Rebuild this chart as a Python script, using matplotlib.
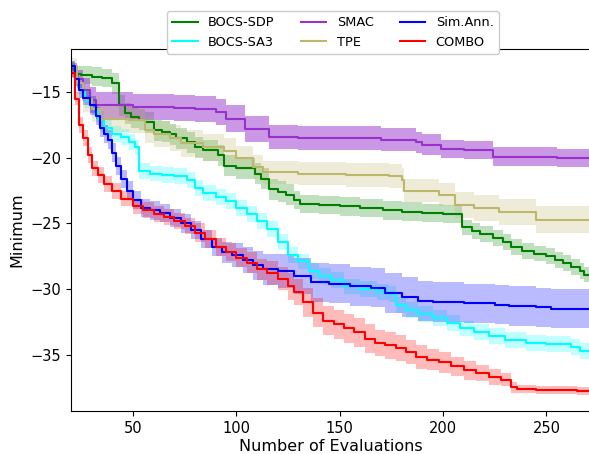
import numpy as np
import matplotlib
matplotlib.use("Agg")
import matplotlib.pyplot as plt

# BOCS-SDP
sdp_x = [20, 22, 25, 30, 35, 40, 43, 46, 49, 53, 56, 60, 64, 68, 71, 76, 80, 84, 88, 91, 94, 100,
         106, 109, 112, 116, 120, 124, 128, 131, 140, 150, 160, 171, 180, 190, 200, 207, 209, 214,
         218, 224, 229, 233, 238, 244, 250, 254, 258, 262, 266, 268, 271]
sdp_y = [-13.2, -13.6, -13.7, -13.8, -13.9, -14.3, -16.0, -16.6, -16.9, -17.1, -17.3, -17.9, -18.0,
         -18.2, -18.5, -18.8, -19.2, -19.4, -19.4, -19.8, -20.6, -20.8, -20.8, -21.2, -21.6, -22.4,
         -22.6, -22.8, -23.2, -23.5, -23.6, -23.7, -23.8, -24.0, -24.1, -24.2, -24.3, -24.3, -25.3,
         -25.6, -25.8, -26.1, -26.4, -26.8, -27.1, -27.3, -27.5, -27.8, -28.0, -28.3, -28.6, -28.9, -29.2]
sdp_err = [0.5, 0.6, 0.7, 0.7, 0.7, 0.8, 0.8, 0.8, 0.8, 0.8, 0.8, 0.8, 0.8, 0.8, 0.8, 0.8, 0.8, 0.8,
           0.8, 0.8, 0.8, 0.8, 0.8, 0.8, 0.8, 0.8, 0.8, 0.8, 0.7, 0.7, 0.7, 0.7, 0.7, 0.7, 0.7, 0.7,
           0.7, 0.7, 0.6, 0.6, 0.6, 0.6, 0.6, 0.6, 0.6, 0.6, 0.6, 0.6, 0.6, 0.6, 0.6, 0.6, 0.6]

# BOCS-SA3
sa3_x = [20, 22, 24, 27, 30, 33, 36, 40, 44, 48, 51, 53, 58, 64, 70, 76, 80, 84, 90, 95, 100, 105,
         110, 115, 120, 125, 130, 135, 140, 146, 152, 160, 168, 174, 177, 182, 188, 195, 202, 208,
         215, 222, 230, 240, 250, 262, 266, 271]
sa3_y = [-13.0, -14.0, -14.8, -15.6, -16.3, -17.0, -17.7, -18.2, -18.4, -18.8, -19.2, -21.0, -21.2,
         -21.3, -21.4, -21.7, -22.3, -22.7, -23.0, -23.3, -23.8, -24.3, -24.8, -25.4, -26.4, -27.4,
         -27.9, -28.6, -29.0, -29.3, -29.8, -30.0, -30.2, -30.4, -31.2, -31.6, -31.9, -32.2, -32.6,
         -33.0, -33.3, -33.6, -33.9, -34.1, -34.2, -34.4, -34.7, -34.9]
sa3_err = [0.4, 0.5, 0.6, 0.6, 0.6, 0.6, 0.6, 0.6, 0.6, 0.6, 0.6, 0.6, 0.6, 0.6, 0.6, 0.6, 0.6, 0.6,
           0.6, 0.6, 0.6, 0.6, 0.6, 0.6, 0.6, 0.6, 0.6, 0.6, 0.6, 0.6, 0.6, 0.6, 0.6, 0.6, 0.6, 0.6,
           0.6, 0.6, 0.6, 0.6, 0.6, 0.6, 0.6, 0.6, 0.6, 0.6, 0.6, 0.6]

# SMAC
smac_x = [20, 23, 26, 29, 32, 40, 50, 60, 70, 80, 90, 95, 104, 116, 130, 150, 170, 187, 190, 199,
          210, 224, 240, 255, 271]
smac_y = [-13.3, -14.0, -14.8, -15.6, -16.0, -16.0, -16.1, -16.1, -16.2, -16.3, -16.5, -17.0, -17.8,
          -18.4, -18.5, -18.5, -18.6, -18.8, -19.0, -19.3, -19.4, -19.9, -19.9, -20.0, -20.1]
smac_err = [0.5, 0.7, 0.9, 1.0, 1.0, 1.0, 1.0, 1.0, 1.0, 1.0, 1.0, 1.0, 1.0, 0.9, 0.9, 0.9, 0.9,
            0.8, 0.8, 0.7, 0.7, 0.7, 0.7, 0.7, 0.7]

# TPE
tpe_x = [20, 23, 26, 30, 34, 40, 48, 56, 60, 68, 73, 84, 94, 100, 108, 113, 130, 153, 174, 180,
         181, 198, 206, 215, 227, 245, 271]
tpe_y = [-13.0, -14.3, -15.5, -16.3, -17.0, -17.0, -17.1, -17.9, -18.2, -18.5, -18.9, -19.2, -19.5,
         -20.0, -20.7, -21.1, -21.2, -21.3, -21.4, -21.7, -22.5, -22.8, -23.6, -23.8, -24.1, -24.7, -24.7]
tpe_err = [0.6, 0.8, 1.0, 1.0, 1.0, 1.0, 1.0, 1.0, 1.0, 1.0, 1.0, 1.0, 1.0, 0.9, 0.9, 0.9, 0.9,
           0.9, 0.9, 0.9, 0.9, 0.9, 1.0, 1.0, 1.0, 1.0, 1.0]

# Sim.Ann.
sa_x = [20, 22, 24, 26, 29, 32, 34, 36, 38, 40, 42, 44, 47, 50, 54, 58, 63, 68, 73, 78, 83, 88, 93,
        98, 103, 108, 113, 120, 128, 136, 145, 155, 165, 172, 180, 188, 195, 210, 225, 232, 245, 252, 271]
sa_y = [-13.0, -14.0, -14.8, -15.4, -16.0, -16.8, -17.7, -18.2, -18.6, -19.6, -20.6, -21.6, -22.5,
        -23.2, -23.8, -24.0, -24.2, -24.6, -25.0, -25.5, -26.2, -26.8, -27.2, -27.4, -27.8, -28.2,
        -28.5, -28.6, -29.0, -29.5, -29.6, -29.8, -29.9, -30.3, -30.6, -30.9, -31.0, -31.1, -31.2,
        -31.3, -31.4, -31.5, -31.5]
sa_err = [0.4, 0.5, 0.6, 0.6, 0.7, 0.7, 0.7, 0.7, 0.7, 0.7, 0.7, 0.7, 0.7, 0.7, 0.7, 0.7, 0.7, 0.7,
          0.7, 0.7, 0.7, 0.7, 0.8, 0.9, 1.0, 1.1, 1.2, 1.3, 1.4, 1.5, 1.5, 1.5, 1.5, 1.5, 1.5, 1.5,
          1.5, 1.5, 1.5, 1.5, 1.5, 1.5, 1.5]

# COMBO
combo_x = [20, 22, 24, 26, 28, 30, 33, 36, 40, 44, 50, 55, 60, 65, 70, 75, 80, 85, 90, 95, 100, 105,
           110, 115, 120, 125, 128, 132, 137, 142, 147, 152, 157, 162, 167, 172, 177, 182, 187, 192,
           198, 204, 210, 216, 222, 228, 233, 236, 245, 255, 265, 271]
combo_y = [-13.5, -15.5, -17.5, -18.5, -19.8, -20.8, -21.3, -22.0, -22.5, -23.1, -23.7, -24.0, -24.3,
           -24.5, -24.8, -25.2, -25.7, -26.2, -26.8, -27.2, -27.6, -28.0, -28.5, -28.8, -29.2, -29.8,
           -30.2, -31.0, -31.8, -32.4, -32.7, -33.0, -33.3, -33.8, -34.1, -34.3, -34.5, -34.8, -35.2,
           -35.4, -35.6, -35.9, -36.2, -36.4, -36.7, -36.9, -37.5, -37.6, -37.7, -37.7, -37.8, -37.8]
combo_err = [0.4, 0.5, 0.6, 0.6, 0.6, 0.6, 0.6, 0.6, 0.6, 0.6, 0.6, 0.6, 0.6, 0.6, 0.6, 0.6, 0.7,
             0.7, 0.7, 0.7, 0.7, 0.8, 0.8, 0.9, 0.9, 1.0, 1.0, 1.1, 1.1, 1.1, 1.1, 1.1, 1.1, 1.1, 1.0,
             1.0, 1.0, 0.9, 0.9, 0.8, 0.8, 0.7, 0.7, 0.6, 0.6, 0.5, 0.4, 0.3, 0.3, 0.3, 0.3, 0.3]

series = [
    ("BOCS-SDP", sdp_x, sdp_y, sdp_err, "green", 0.25),
    ("BOCS-SA3", sa3_x, sa3_y, sa3_err, "cyan", 0.25),
    ("SMAC", smac_x, smac_y, smac_err, "darkorchid", 0.5),
    ("TPE", tpe_x, tpe_y, tpe_err, "darkkhaki", 0.25),
    ("Sim.Ann.", sa_x, sa_y, sa_err, "blue", 0.27),
    ("COMBO", combo_x, combo_y, combo_err, "red", 0.27),
]

fig = plt.figure(figsize=(5.89, 4.54), dpi=100)
ax = fig.add_axes([0.1205, 0.0947, 0.882, 0.7973])

for name, x, y, err, col, a in series:
    x = np.array(x)
    y = np.array(y)
    err = np.array(err)
    ax.fill_between(x, y - err, y + err, step="post", color=col, alpha=a, linewidth=0)
    ax.step(x, y, where="post", color=col, lw=1.5, label=name)

ax.set_xlim(20, 271.3)
ax.set_ylim(-39.3, -11.7)
ax.set_xticks([50, 100, 150, 200, 250])
ax.set_yticks([-15, -20, -25, -30, -35])
ax.tick_params(labelsize=10.5)
ax.set_xlabel("Number of Evaluations", fontsize=11.5, labelpad=2)
ax.set_ylabel("Minimum", fontsize=11.5)

ax.legend(loc="upper center", bbox_to_anchor=(0.565, 0.99), bbox_transform=fig.transFigure,
          ncol=3, fontsize=9.3, framealpha=1.0)

fig.savefig("out.png", dpi=100)
